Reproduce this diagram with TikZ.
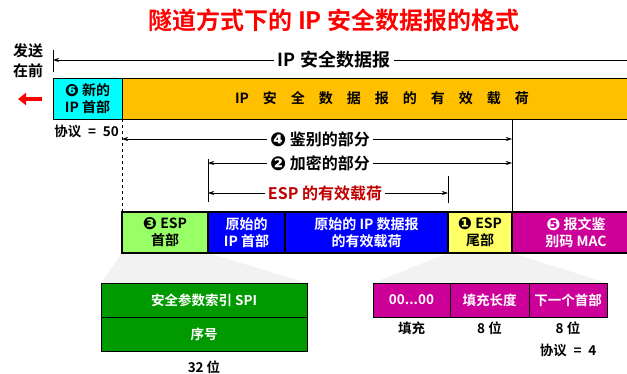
\documentclass[tikz,border=0pt]{standalone}
\usepackage{fontspec}
\setmainfont{Noto Sans CJK SC}[BoldFont={Noto Sans CJK SC Bold}]
\newfontfamily\symfont{DejaVu Sans}
\usetikzlibrary{arrows.meta, positioning}
\definecolor{hdrcyan}{HTML}{00FFFF}
\definecolor{payorange}{HTML}{FFC000}
\definecolor{esplight}{HTML}{99FF66}
\definecolor{origblue}{HTML}{0000FF}
\definecolor{trlyellow}{HTML}{FFFF66}
\definecolor{macmag}{HTML}{CC0099}
\definecolor{spigreen}{HTML}{009900}
\definecolor{titlered}{HTML}{FF0000}
\definecolor{payred}{HTML}{C00000}
\newcommand{\stepno}[1]{\raisebox{-0.08em}{\scalebox{1.2}{\symfont #1}}}

\begin{document}
\begin{tikzpicture}[
    x=1pt, y=-1pt,
    font=\bfseries\fontsize{14}{17}\selectfont,
    field/.style={rectangle, draw, line width=1.2pt, inner sep=0pt, outer sep=0pt, minimum height=41pt, align=center},
    subfield/.style={rectangle, draw, line width=1pt, inner sep=0pt, outer sep=0pt, minimum height=34pt, align=center, text=white, font=\bfseries\fontsize{13.5}{16}\selectfont},
    dim/.style={{Stealth[length=6pt,width=4pt]}-{Stealth[length=6pt,width=4pt]}, line width=0.7pt},
    dimtext/.style={fill=white, inner sep=3pt, font=\bfseries\fontsize{16}{18}\selectfont},
    note/.style={inner sep=0pt, font=\bfseries\fontsize{13.5}{16}\selectfont}
]
    \useasboundingbox (0,0) rectangle (627,373);

    % 标题
    \node[text=titlered, font=\bfseries\fontsize{24}{28}\selectfont] (title) at (334,20) {隧道方式下的 IP 安全数据报的格式};

    % 展开部分的阴影
    \fill[gray!10] (122,253) -- (208,253) -- (307,283) -- (101,283) -- cycle;
    \fill[gray!10] (448,253) -- (512,253) -- (607,283) -- (373,283) -- cycle;

    % 第一行：IP 安全数据报
    \node[field, fill=hdrcyan, minimum width=69pt, anchor=north west, line width=1pt] (newip) at (53,78) {\stepno{❻} 新的\\IP 首部};
    \node[field, fill=payorange, minimum width=520pt, right=0pt of newip, line width=1pt] (ippay) {IP\quad 安\quad 全\quad 数\quad 据\quad 报\quad 的\quad 有\quad 效\quad 载\quad 荷};

    \node[align=center, font=\bfseries\fontsize{15}{20}\selectfont] (sendnote) at (28,61) {发送\\在前};
    \coordinate (sendA) at (42,99);
    \coordinate (sendB) at (18,99);
    \draw[titlered, line width=3.5pt, -{Triangle[length=8pt,width=12pt]}] (sendA) -- (sendB);

    \node[note, anchor=east] (proto50) at (119,131) {协议\enspace=\enspace50};

    % 第二行：ESP 各字段
    \node[field, fill=esplight, minimum width=86pt, anchor=north west] (esph) at (122,212) {\stepno{❸} ESP\\首部};
    \node[field, fill=origblue, text=white, minimum width=77pt, right=0pt of esph] (origip) {原始的\\IP 首部};
    \node[field, fill=origblue, text=white, minimum width=163pt, right=0pt of origip] (origpay) {原始的 IP 数据报\\的有效载荷};
    \node[field, fill=trlyellow, minimum width=64pt, right=0pt of origpay] (espt) {\stepno{❶} ESP\\尾部};
    \node[field, fill=macmag, text=white, minimum width=128pt, right=0pt of espt] (mac) {\stepno{❺} 报文鉴\\别码 MAC};

    % 顶部的 IP 安全数据报范围
    \coordinate (dgTickA) at (newip.north west |- 0,50);
    \coordinate (dgTickB) at (newip.north west |- 0,72);
    \coordinate (dgL) at (newip.north west |- 0,60);
    \coordinate (dgR) at (650,60);
    \draw[line width=0.7pt] (dgTickA) -- (dgTickB);
    \draw[line width=0.7pt, {Stealth[length=6pt,width=4pt]}-] (dgL) -- (dgR);
    \node[fill=white, inner sep=4pt, font=\bfseries\fontsize{18}{20}\selectfont] (dglabel) at (334,60) {IP 安全数据报};

    % 分界线
    \draw[line width=0.7pt, dashed] (newip.south east) -- (esph.north west);
    \draw[line width=0.8pt] (ippay.south west -| mac.north west) -- (mac.north west);
    \draw[line width=0.8pt] (origip.north west |- 0,159) -- (origip.north west |- 0,202);
    \draw[line width=0.8pt] (espt.north west |- 0,176) -- (espt.north west |- 0,203);

    % 鉴别、加密和有效载荷的范围
    \coordinate (authL) at (esph.north west |- 0,139);
    \coordinate (authR) at (mac.north west |- 0,139);
    \coordinate (encL) at (origip.north west |- 0,163);
    \coordinate (encR) at (mac.north west |- 0,163);
    \coordinate (espL) at (origip.north west |- 0,193);
    \coordinate (espR) at (espt.north west |- 0,193);
    \draw[dim] (authL) -- (authR);
    \draw[dim] (encL) -- (encR);
    \draw[dim] (espL) -- (espR);
    \node[dimtext] (authlabel) at (320,139) {\stepno{❹} 鉴别的部分};
    \node[dimtext] (enclabel) at (320,163) {\stepno{❷} 加密的部分};
    \node[dimtext, text=payred] (esplabel) at (325,193) {ESP 的有效载荷};

    % ESP 首部展开
    \node[subfield, fill=spigreen, minimum width=206pt, anchor=north west] (spi) at (101,283) {安全参数索引 SPI};
    \node[subfield, fill=spigreen, minimum width=206pt, below=0pt of spi] (seqno) {序号};
    \node[note] (bits32) at (spi.center |- 0,367) {32 位};

    % ESP 尾部展开
    \node[subfield, fill=macmag, minimum width=77pt, anchor=north west] (pad) at (373,283) {00...00};
    \node[subfield, fill=macmag, minimum width=79pt, right=0pt of pad] (padlen) {填充长度};
    \node[subfield, fill=macmag, minimum width=78pt, right=0pt of padlen] (nexthdr) {下一个首部};
    \node[note] (padnote) at (pad.center |- 0,328) {填充};
    \node[note] (padlennote) at (padlen.center |- 0,328) {8 位};
    \node[note] (nextnote) at (nexthdr.center |- 0,328) {8 位};
    \node[note] (proto4) at (nexthdr.center |- 0,350) {协议\enspace=\enspace4};
\end{tikzpicture}
\end{document}
